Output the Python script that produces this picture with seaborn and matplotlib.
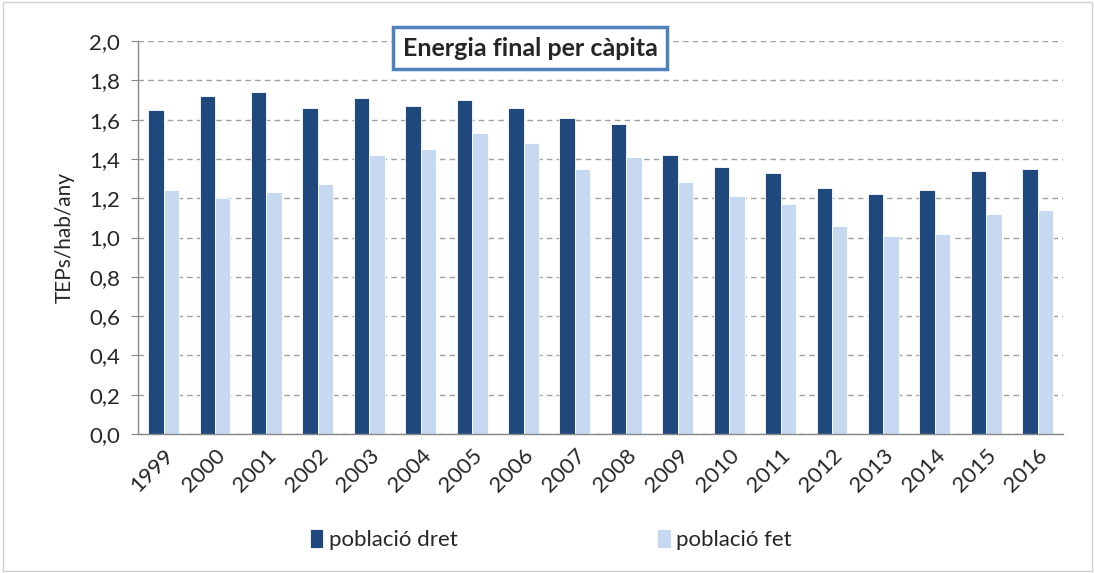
import numpy as np
import pandas as pd
import matplotlib.pyplot as plt
import seaborn as sns
from matplotlib.ticker import FuncFormatter, FixedLocator

# dades
anys = [str(a) for a in range(1999, 2017)]
poblacio_dret = [1.65, 1.72, 1.74, 1.66, 1.71, 1.67, 1.70, 1.66, 1.61,
                 1.58, 1.42, 1.36, 1.33, 1.25, 1.22, 1.24, 1.34, 1.35]
poblacio_fet = [1.24, 1.20, 1.23, 1.27, 1.42, 1.45, 1.53, 1.48, 1.35,
                1.41, 1.28, 1.21, 1.17, 1.06, 1.01, 1.02, 1.12, 1.14]
series = ['població dret', 'població fet']
colors = ['#1F497D', '#C6D9F1']

df = pd.DataFrame({
    'any': anys * 2,
    'valor': poblacio_dret + poblacio_fet,
    'serie': [series[0]] * len(anys) + [series[1]] * len(anys),
})

sns.set_style('white')
plt.rcParams['font.family'] = ['Lato', 'DejaVu Sans']

fig = plt.figure(figsize=(10.95, 5.73), dpi=100)
ax = fig.add_axes([0.126, 0.2426, 0.845, 0.6858])

sns.barplot(data=df, x='any', y='valor', hue='serie', palette=colors,
            width=0.6, ax=ax, legend=True, saturation=1,
            edgecolor='white', linewidth=0.6)

ax.set_ylim(0, 2.0)
ax.set_xlim(-0.5, len(anys) - 0.5)
ax.set_yticks(np.arange(0, 2.01, 0.2))
ax.yaxis.set_major_formatter(FuncFormatter(lambda v, p: f'{v:.1f}'.replace('.', ',')))
ax.grid(axis='y', color='#A0A0A0', linestyle=(0, (4, 3)), linewidth=1)
ax.set_axisbelow(True)

for s in ['top', 'right']:
    ax.spines[s].set_visible(False)
for s in ['left', 'bottom']:
    ax.spines[s].set_color('#888888')
    ax.spines[s].set_linewidth(1)

# marques de l'eix x entre categories
ax.xaxis.set_minor_locator(FixedLocator(np.arange(-0.5, len(anys), 1)))
ax.tick_params(axis='x', which='major', length=0, labelsize=16, pad=8)
ax.tick_params(axis='x', which='minor', length=7, color='#888888', width=1)
ax.tick_params(axis='y', which='major', length=5, color='#888888', labelsize=16,
               left=True, pad=8)
plt.setp(ax.get_xticklabels(), rotation=45, ha='right', rotation_mode='anchor')

ax.set_xlabel('')
ax.set_ylabel('TEPs/hab/any', fontsize=15, labelpad=10)

# títol amb caixa
ax.text(0.424, 0.982, 'Energia final per càpita', transform=ax.transAxes,
        ha='center', va='center', fontsize=18, fontweight='bold',
        bbox=dict(boxstyle='square,pad=0.38', facecolor='white',
                  edgecolor='#4F81BD', linewidth=2.5), zorder=5)

# llegenda
handles, labels = ax.get_legend_handles_labels()
ax.get_legend().remove()
fig.legend(handles, labels, loc='center', bbox_to_anchor=(0.503, 0.058), ncol=2,
           frameon=False, fontsize=16, columnspacing=9.0, handlelength=0.6,
           handleheight=0.9, handletextpad=0.25)

# marc del gràfic
fig.patches.append(plt.Rectangle((0.003, 0.003), 0.994, 0.994, transform=fig.transFigure,
                                 fill=False, edgecolor='#D0D0D0', linewidth=1))

fig.savefig('out.png', dpi=100)
